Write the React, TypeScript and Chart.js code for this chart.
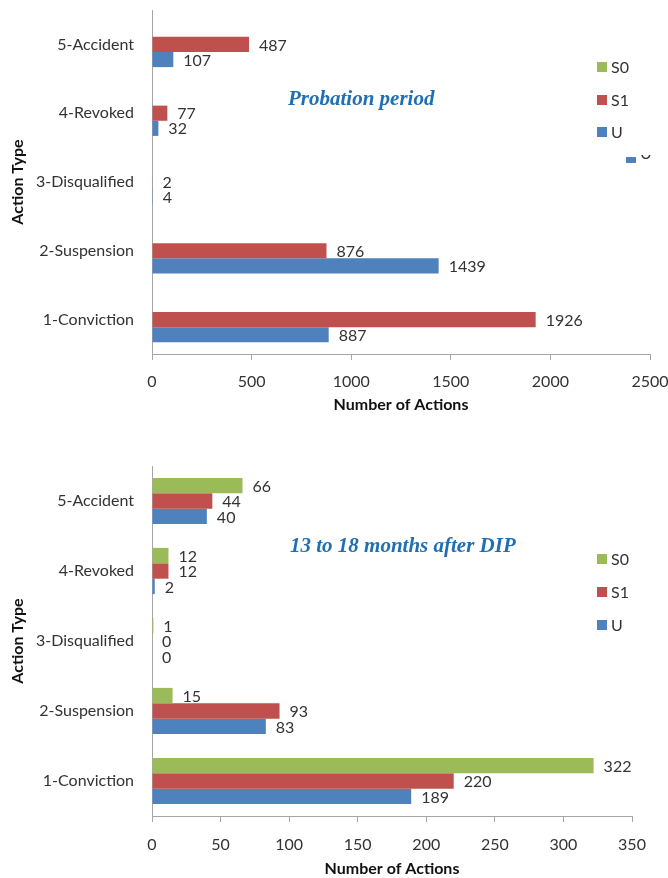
import React, { useEffect, useRef } from 'react';
import { Chart, registerables } from 'chart.js';

Chart.register(...registerables);

// ---- data ----
const categories = ['1-Conviction', '2-Suspension', '3-Disqualified', '4-Revoked', '5-Accident'];
const seriesNames = ['S0', 'S1', 'U'];
const seriesColors = ['#9BBB59', '#C0504D', '#4F81BD'];

const probationS0: (number | null)[] = [null, null, null, null, null];
const probationS1 = [1926, 876, 2, 77, 487];
const probationU = [887, 1439, 4, 32, 107];
const probationTicks = { max: 2500, step: 500 };

const afterS0 = [322, 15, 1, 12, 66];
const afterS1 = [220, 93, 0, 12, 44];
const afterU = [189, 83, 0, 2, 40];
const afterTicks = { max: 350, step: 50 };

const FAMILY = 'Lato, "Open Sans", sans-serif';
const TEXT = '#333333';
const AXIS = '#A6A6A6';

const valueLabels = {
  id: 'valueLabels',
  afterDatasetsDraw(chart: any) {
    const ctx = chart.ctx;
    ctx.save();
    ctx.font = `16px ${FAMILY}`;
    ctx.fillStyle = TEXT;
    ctx.textBaseline = 'middle';
    ctx.textAlign = 'left';
    chart.data.datasets.forEach((ds: any, i: number) => {
      const meta = chart.getDatasetMeta(i);
      meta.data.forEach((el: any, j: number) => {
        const v = ds.data[j];
        if (v == null) return;
        ctx.fillText(String(v), el.x + 10, el.y + 1);
      });
    });
    ctx.restore();
  },
};

const overlay = {
  id: 'overlay',
  afterDraw(chart: any, _args: any, opts: any) {
    const ctx = chart.ctx;
    ctx.save();
    // inner title
    ctx.font = `italic bold 21px "Liberation Serif", serif`;
    ctx.fillStyle = '#1F6FB5';
    ctx.textBaseline = 'middle';
    ctx.textAlign = 'left';
    ctx.fillText(opts.title, opts.titleX, opts.titleY);
    // legend
    ctx.font = `16px ${FAMILY}`;
    chart.data.datasets.forEach((ds: any, i: number) => {
      const y = opts.legendYs[i];
      ctx.fillStyle = ds.backgroundColor;
      ctx.fillRect(opts.legendX, y - 5, 10, 10);
      ctx.fillStyle = TEXT;
      ctx.fillText(ds.label, opts.legendX + 14, y + 1);
    });
    // clipped stray legend fragment
    if (opts.fragment) {
      ctx.fillStyle = seriesColors[2];
      ctx.fillRect(626, 157, 10, 6);
      ctx.beginPath();
      ctx.rect(636, 155, 20, 9);
      ctx.clip();
      ctx.fillStyle = TEXT;
      ctx.fillText('U', 640, 154);
    }
    ctx.restore();
  },
};

type PanelProps = {
  height: number;
  s0: (number | null)[];
  s1: (number | null)[];
  u: (number | null)[];
  ticks: { max: number; step: number };
  padding: { top: number; right: number; bottom: number; left: number };
  xScaleHeight: number;
  tickPad: number;
  xTitlePad: number;
  title: string;
  titleX: number;
  titleY: number;
  legendYs: number[];
  fragment: boolean;
};

function Panel(p: PanelProps) {
  const ref = useRef<HTMLCanvasElement>(null);
  useEffect(() => {
    if (!ref.current) return;
    const chart = new Chart(ref.current, {
      type: 'bar',
      data: {
        labels: categories,
        datasets: [
          { label: seriesNames[0], data: p.s0, backgroundColor: seriesColors[0] },
          { label: seriesNames[1], data: p.s1, backgroundColor: seriesColors[1] },
          { label: seriesNames[2], data: p.u, backgroundColor: seriesColors[2] },
        ],
      },
      options: {
        indexAxis: 'y',
        responsive: false,
        animation: false,
        maintainAspectRatio: false,
        layout: { padding: p.padding },
        datasets: { bar: { categoryPercentage: 0.66, barPercentage: 1, borderWidth: 0 } },
        plugins: {
          legend: { display: false },
          tooltip: { enabled: false },
          title: { display: false },
          overlay: {
            title: p.title,
            titleX: p.titleX,
            titleY: p.titleY,
            legendX: 597,
            legendYs: p.legendYs,
            fragment: p.fragment,
          },
        } as any,
        scales: {
          x: {
            type: 'linear',
            min: 0,
            max: p.ticks.max,
            afterFit: (s: any) => {
              s.height = p.xScaleHeight;
              s.paddingLeft = 0;
              s.paddingRight = 0;
            },
            ticks: {
              stepSize: p.ticks.step,
              padding: p.tickPad,
              color: TEXT,
              font: { size: 16, family: FAMILY },
              maxRotation: 0,
              callback: (v: any) => String(v),
            },
            grid: { drawOnChartArea: false, drawTicks: true, tickLength: 6, color: AXIS },
            border: { display: true, color: AXIS, width: 1 },
            title: {
              display: true,
              text: 'Number of Actions',
              color: '#111',
              font: { size: 16, weight: 'bold', family: FAMILY },
              padding: { top: 0, bottom: p.xTitlePad },
            },
          },
          y: {
            type: 'category',
            reverse: true,
            afterFit: (s: any) => {
              s.width = 152;
              s.paddingTop = 0;
              s.paddingBottom = 0;
            },
            ticks: { padding: 18, color: TEXT, font: { size: 16, family: FAMILY } },
            grid: { display: false, drawTicks: false },
            border: { display: true, color: AXIS, width: 1 },
            title: {
              display: true,
              text: 'Action Type',
              color: '#111',
              font: { size: 16, weight: 'bold', family: FAMILY },
              padding: { top: 8, bottom: 0 },
            },
          },
        },
      } as any,
      plugins: [valueLabels, overlay],
    });
    return () => chart.destroy();
  }, []);
  return <canvas ref={ref} width={668} height={p.height} style={{ display: 'block', width: 668, height: p.height }} />;
}

export default function App() {
  return (
    <div style={{ position: 'absolute', left: 0, top: 0, width: 668, height: 878, background: '#fff' }}>
      <Panel
        height={440}
        s0={probationS0}
        s1={probationS1}
        u={probationU}
        ticks={probationTicks}
        padding={{ top: 10, right: 18, bottom: 22, left: 0 }}
        xScaleHeight={64}
        tickPad={12}
        xTitlePad={4}
        title="Probation period"
        titleX={288}
        titleY={100}
        legendYs={[67, 100, 132]}
        fragment={true}
      />
      <Panel
        height={438}
        s0={afterS0}
        s1={afterS1}
        u={afterU}
        ticks={afterTicks}
        padding={{ top: 26, right: 36, bottom: 0, left: 0 }}
        xScaleHeight={62}
        tickPad={13}
        xTitlePad={0}
        title="13 to 18 months after DIP"
        titleX={290}
        titleY={107}
        legendYs={[119, 152, 185]}
        fragment={false}
      />
    </div>
  );
}
